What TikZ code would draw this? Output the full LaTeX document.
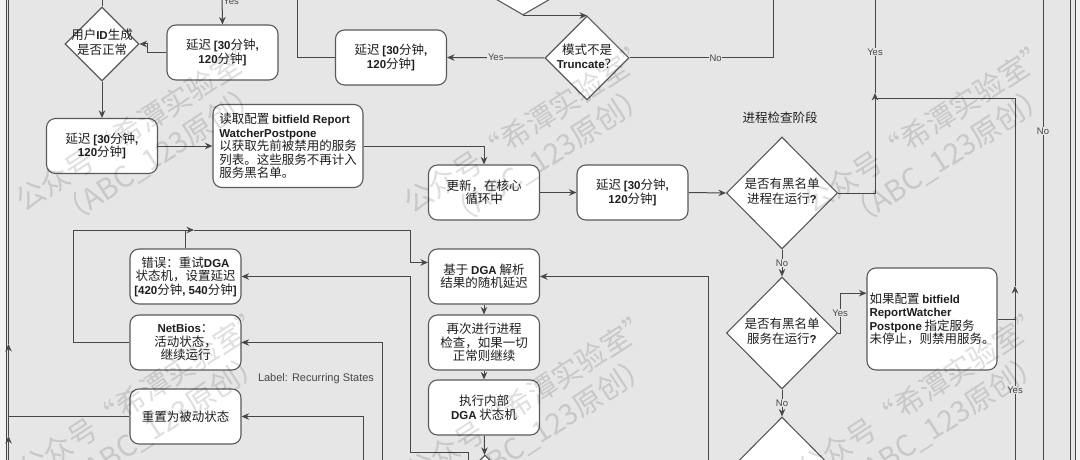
\documentclass[tikz,border=0pt]{standalone}
\usepackage{fontspec}
\setmainfont{Noto Sans CJK SC}
\newfontfamily\latfont{Liberation Sans}
\usetikzlibrary{shapes.geometric,arrows.meta,calc}
\definecolor{bgcol}{HTML}{E6E6E6}
\definecolor{outcol}{HTML}{F3F3F3}
\definecolor{linecol}{HTML}{474747}
\definecolor{boxcol}{HTML}{5A5A5A}
\definecolor{txtcol}{HTML}{1E1E1E}
\newcommand\en[1]{{\latfont\bfseries\fontsize{11.5}{13.5}\selectfont #1}}
\newcommand\dtext[1]{\makebox[0pt]{\begin{tabular}{@{}c@{}}#1\end{tabular}}}
\tikzset{
  box/.style={draw=boxcol, fill=white, line width=1.1pt, rounded corners=9pt, align=center,
    inner sep=1.5pt, minimum width=111pt, minimum height=55pt, text=txtcol,
    font=\fontsize{12.5}{13.5}\selectfont},
  dec/.style={diamond, draw=boxcol, fill=white, line width=1.1pt, inner sep=0pt, text=txtcol,
    font=\fontsize{12.5}{13.5}\selectfont},
  ln/.style={draw=linecol, line width=1pt},
  arr/.style={ln, -{Stealth[length=7.5pt,width=6.5pt]}},
  lbl/.style={font=\latfont\fontsize{9.5}{10}\selectfont, text=linecol, fill=bgcol, inner sep=0.8pt},
  wmark/.style={font=\fontsize{29}{35}\selectfont, text=black, opacity=0.13, rotate=33, align=center}
}
\begin{document}
\begin{tikzpicture}[x=1pt, y=-1pt]
% --- sfondo ---
\useasboundingbox (0,0) rectangle (1080,460);
\clip (0,0) rectangle (1080,460);
\fill[outcol] (0,0) rectangle (1080,460);
\fill[bgcol] (6.5,-5) rectangle (1075,465);
\draw[linecol, line width=0.8pt] (6.5,-5) -- (6.5,465) (1070.5,-5) -- (1070.5,465) (1075,-5) -- (1075,465);
% --- blocchi ---
\node[dec, minimum width=74pt, minimum height=74pt] (idok) at (102,44) {\dtext{用户\en{ID}生成\\是否正常}};
\node[box] (wait1) at (222.5,52.5) {延迟 \en{[30}分钟\en{,}\\\en{120}分钟\en{]}};
\node[box] (wait2) at (102,146) {延迟 \en{[30}分钟\en{,}\\\en{120}分钟\en{]}};
\node[box, minimum width=150pt, minimum height=83pt, align=left] (readcfg) at (288,146)
  {读取配置 \en{bitfield Report}\\\en{WatcherPostpone}\\以获取先前被禁用的服务\\列表。这些服务不再计入\\服务黑名单。};
\node[box] (wait3) at (391,57.5) {延迟 \en{[30}分钟\en{,}\\\en{120}分钟\en{]}};
\node[dec, minimum width=138pt, minimum height=80pt] (topdec) at (523,-25) {};
\node[dec, minimum width=84pt, minimum height=84pt] (trunc) at (587,58) {\dtext{模式不是\\\en{Truncate}？}};
\node[box] (update) at (484,192.5) {更新，在核心\\循环中};
\node[box] (wait4) at (632.5,192.5) {延迟 \en{[30}分钟\en{,}\\\en{120}分钟\en{]}};
\node[font=\fontsize{12.5}{13}\selectfont, text=txtcol] (phase) at (780,118) {进程检查阶段};
\node[dec, minimum width=111pt, minimum height=112pt] (procchk) at (782,193) {\dtext{是否有黑名单\\进程在运行\en{?}}};
\node[dec, minimum width=111pt, minimum height=112pt] (svcchk) at (782,333) {\dtext{是否有黑名单\\服务在运行\en{?}}};
\node[dec, minimum width=111pt, minimum height=112pt] (nextchk) at (782,473) {};
\node[box, minimum width=130pt, minimum height=102pt, align=left] (disable) at (932,319)
  {如果配置 \en{bitfield}\\\en{ReportWatcher}\\\en{Postpone} 指定服务\\未停止，则禁用服务。};
\node[box] (retry) at (185.5,276.5) {错误：重试\en{DGA}\\状态机，设置延迟\\\en{[420}分钟\en{, 540}分钟\en{]}};
\node[box] (netbios) at (185.5,342.5) {\en{NetBios}：\\活动状态，\\继续运行};
\node[box] (reset) at (185.5,416.5) {重置为被动状态};
\node[font=\latfont\fontsize{11}{12}\selectfont, text=linecol] (recur) at (316,379) {Label: Recurring States};
\node[box] (dgadelay) at (484,276.5) {基于 \en{DGA} 解析\\结果的随机延迟};
\node[box] (recheck) at (484,342.5) {再次进行进程\\检查，如果一切\\正常则继续};
\node[box] (runfsm) at (484,407.5) {执行内部\\\en{DGA} 状态机};
\node[dec, minimum width=80pt, minimum height=80pt] (fsmdec) at (485,495) {};
% --- punti liberi ---
\coordinate (t1) at (102,-5);
\coordinate (t2) at (222,-5);
\coordinate (t3) at (875,-5);
\coordinate (j1a) at (875,93);
\coordinate (j1) at (875,99);
\coordinate (r0) at (1015,465);
\coordinate (r1) at (1015,286);
\coordinate (t5) at (773,-5);
\coordinate (t6) at (297,-5);
\coordinate (t7) at (1043,-5);
\coordinate (u7) at (1043,465);
\coordinate (l0) at (8.5,465);
\coordinate (l1) at (8.5,436);
\coordinate (l2) at (8.5,344);
\coordinate (l3) at (8.5,-5);
\coordinate (k1) at (73,230);
\coordinate (k2) at (194,230);
\coordinate (k3) at (410,230);
\coordinate (m0) at (468,465);
\coordinate (m1) at (410,452);
\coordinate (n0) at (708,465);
\coordinate (p0) at (382,465);
\coordinate (q0) at (363,465);
% --- frecce ---
\draw[ln] (t1) -- (idok.north);
\draw[arr] (t2) -- node[lbl, pos=0.2, anchor=west] (yes0) {Yes} (wait1.north);
\draw[arr] (wait1.west) -- ++(-19,0) |- (idok.east);
\draw[arr] (idok.south) -- (wait2.north);
\draw[arr] (wait2.east) -- (readcfg.west);
\draw[arr] (readcfg.east) -| (update.north);
\draw[arr] (update.east) -- (wait4.west);
\draw[arr] (wait4.east) -- (procchk.west);
\draw[arr] (procchk.east) -| (j1a);
\draw[ln] (j1a) -- node[lbl, pos=0.42] (yes1) {Yes} (t3);
\draw[arr] (r0) -- node[lbl, pos=0.42] (yes2) {Yes} (r1);
\draw[ln] (r1) |- (j1);
\draw[ln] (disable.east) -- (disable.east -| r1);
\draw[arr] (svcchk.east) -- ++(2,0) |- node[lbl, pos=0.25] (yes3) {Yes}
  ($(disable.north west)!0.25!(disable.south west)$);
\draw[arr] (procchk.south) -- node[lbl] (no1) {No} (svcchk.north);
\draw[arr] (svcchk.south) -- node[lbl] (no2) {No} (nextchk.north);
\draw[arr] (topdec.south) -- (topdec.south -| trunc.north);
\draw[arr] (trunc.west) -- node[lbl] (yes4) {Yes} (wait3.east);
\draw[ln] (trunc.east) -| node[lbl, pos=0.3] (no3) {No} (t5);
\draw[ln] (wait3.west) -| (t6);
\draw[ln] (t7) -- node[lbl, pos=0.29] (no4) {No} (u7);
% rientri a sinistra
\draw[arr] (l0) -- (l1);
\draw[arr] (l1) -- (l2);
\draw[ln] (l2) -- (l3);
\draw[ln] (reset.west) -- (reset.west -| l0);
\draw[arr] (netbios.west) -| (k1) -- (k2);
\draw[arr] (k2) -- (k3) |- ($(dgadelay.north west)!0.25!(dgadelay.south west)$);
\draw[ln] (retry.north) -- (retry.north |- k1);
\draw[arr] (m0) |- (m1) |- (retry.east);
\draw[arr] (n0) |- (dgadelay.east);
\draw[arr] (p0) |- (netbios.east);
\draw[arr] (q0) |- (reset.east);
\draw[arr] (dgadelay) -- (recheck);
\draw[arr] (recheck) -- (runfsm);
\draw[arr] (runfsm) -- (fsmdec);
% --- filigrana ---
\foreach \wx/\wy [count=\k] in {150/140, 538/142, 938/142, 153/409, 540/412, 932/409}
  \node[wmark] (wm\k) at (\wx,\wy) {公众号“希潭实验室”\\（ABC\_123原创）};
\end{tikzpicture}
\end{document}
